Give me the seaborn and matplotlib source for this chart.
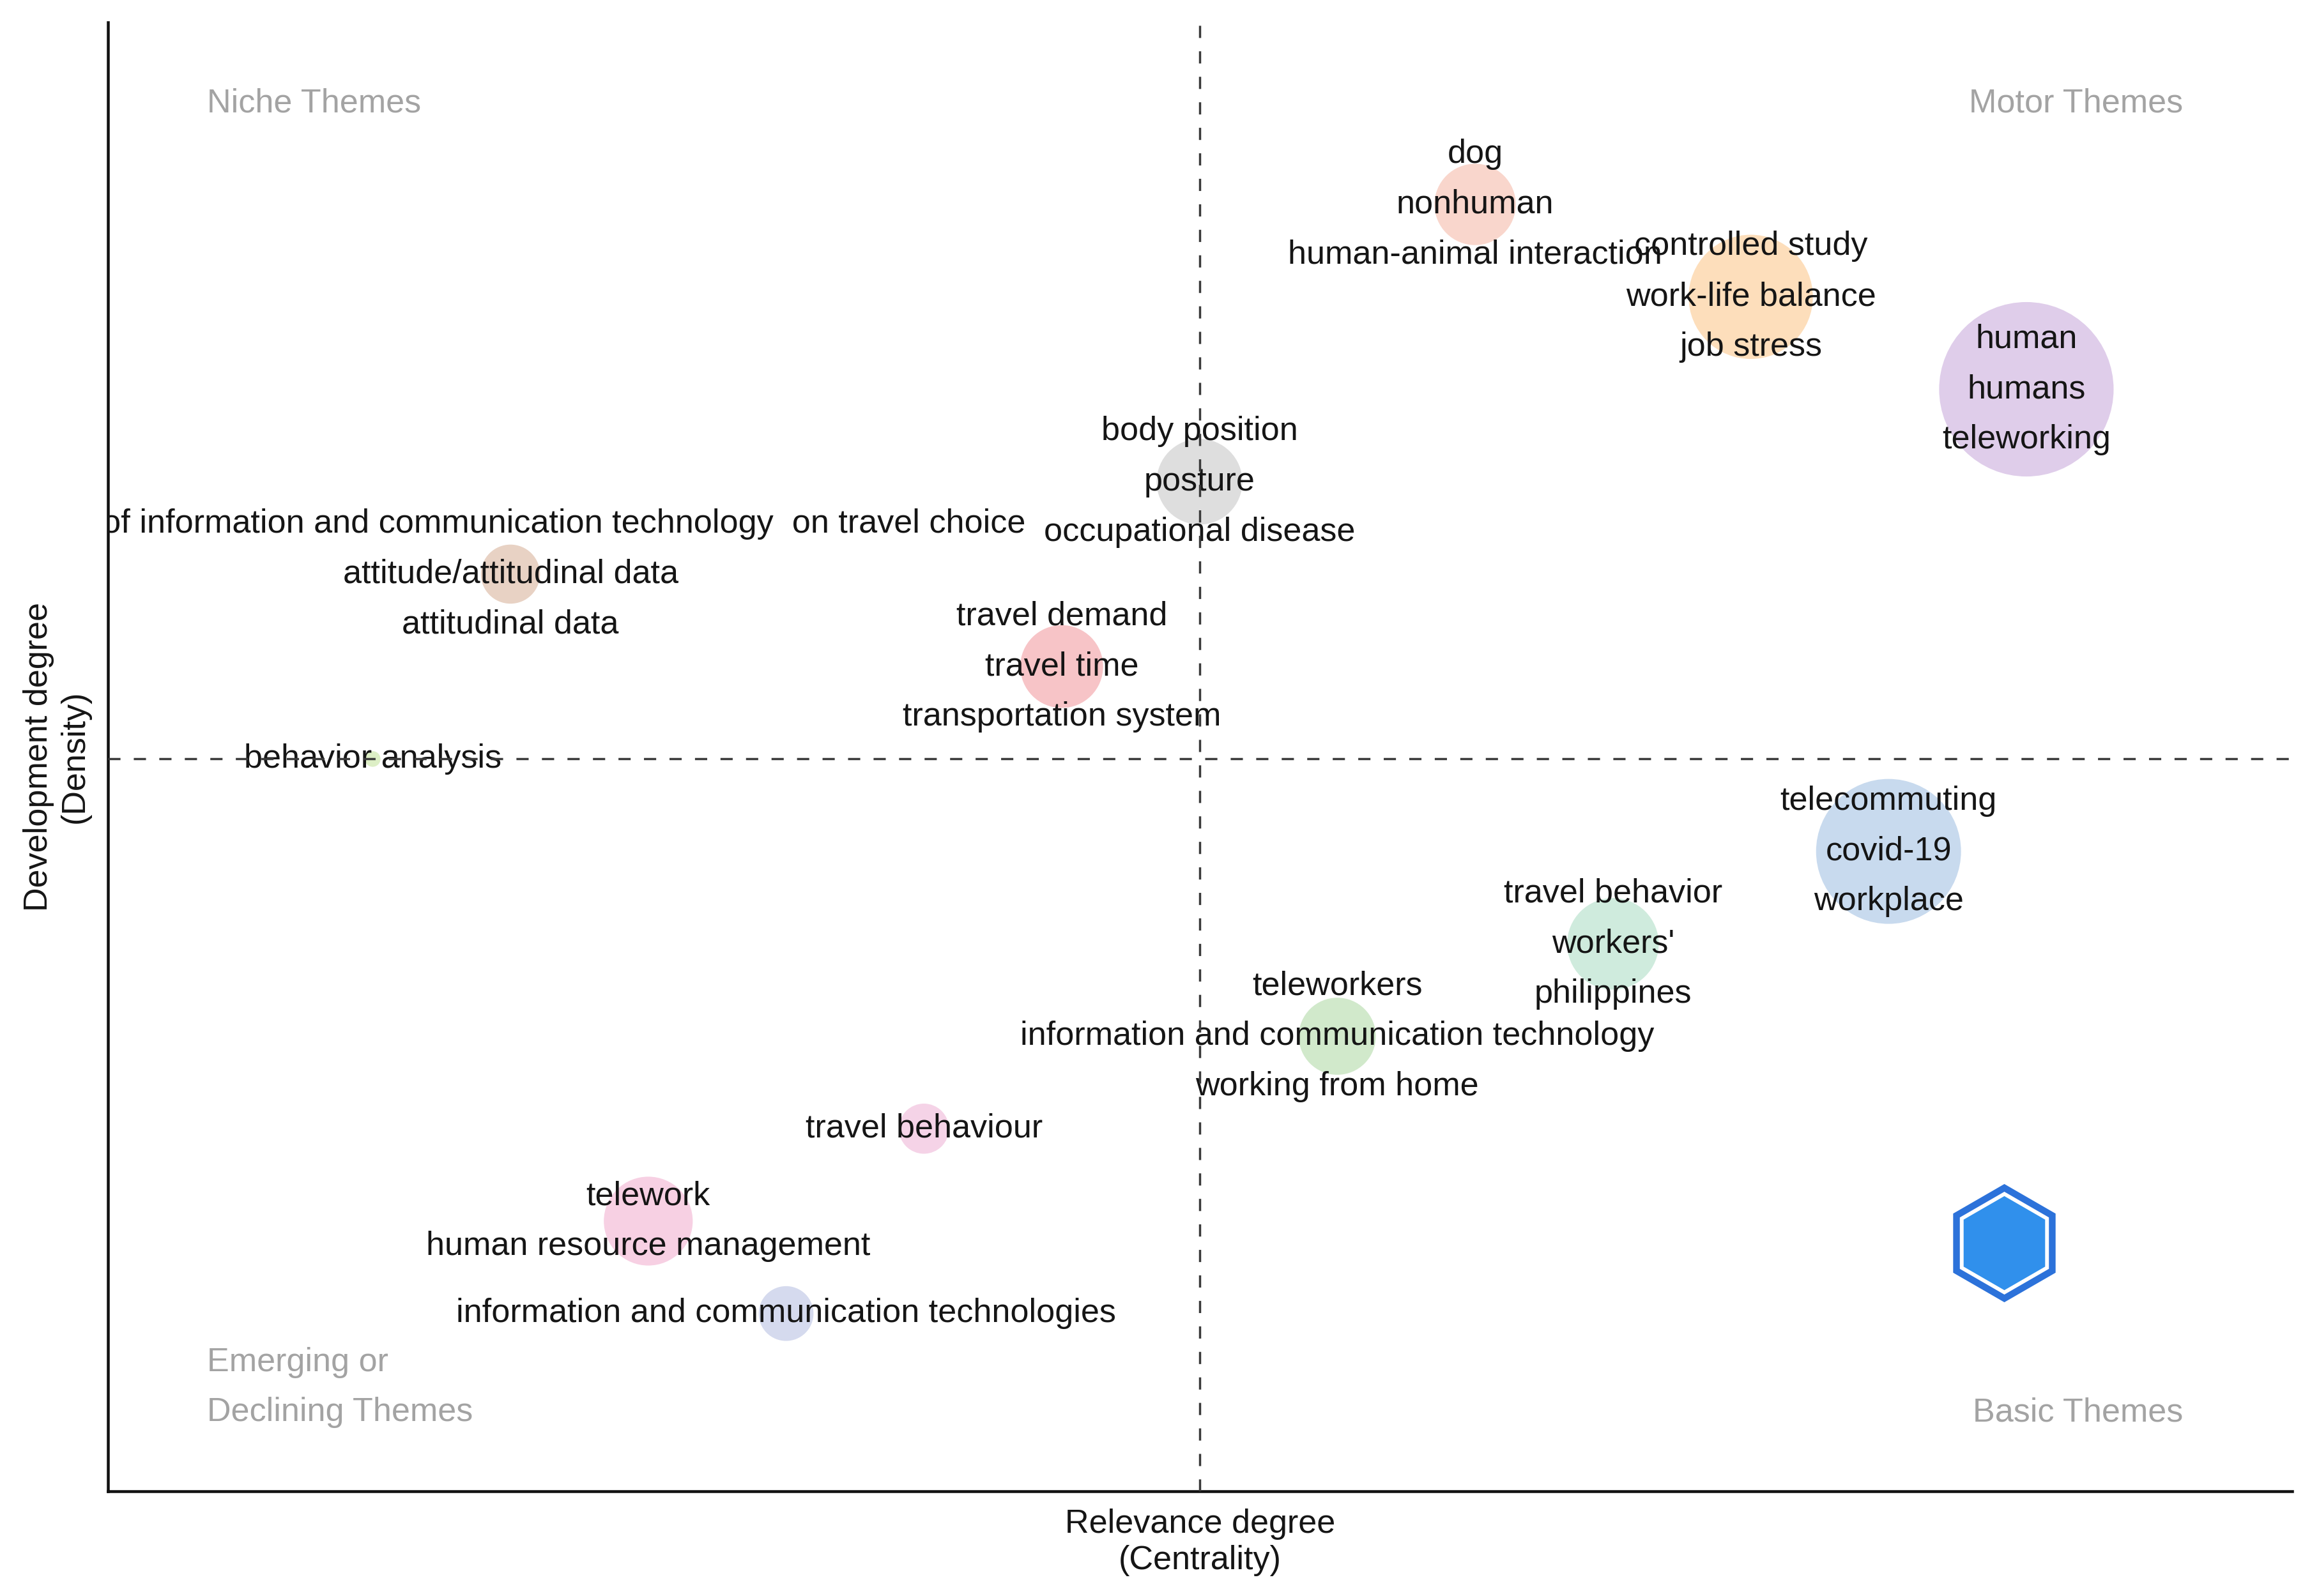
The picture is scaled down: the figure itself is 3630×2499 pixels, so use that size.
import matplotlib
matplotlib.use("Agg")
import matplotlib.pyplot as plt
import seaborn as sns
import numpy as np
import pandas as pd

# thematic map: centrality / density ranks of each keyword cluster
clusters = ["dog", "controlled study", "human", "body position", "impact of ict",
            "travel demand", "behavior analysis", "telecommuting", "travel behavior",
            "teleworkers", "travel behaviour", "telework", "ict"]
centrality = [9, 11, 13, 7, 2, 6, 1, 12, 10, 8, 5, 3, 4]
density = [13, 12, 11, 10, 9, 8, 7, 6, 5, 4, 3, 2, 1]
frequency = [108, 252, 497, 120, 57, 112, 4, 343, 137, 97, 41, 129, 49]
cluster_words = [
    ["dog", "nonhuman", "human-animal interaction"],
    ["controlled study", "work-life balance", "job stress"],
    ["human", "humans", "teleworking"],
    ["body position", "posture", "occupational disease"],
    ["impact of information and communication technology  on travel choice",
     "attitude/attitudinal data", "attitudinal data"],
    ["travel demand", "travel time", "transportation system"],
    ["behavior analysis"],
    ["telecommuting", "covid-19", "workplace"],
    ["travel behavior", "workers'", "philippines"],
    ["teleworkers", "information and communication technology", "working from home"],
    ["travel behaviour"],
    ["telework", "human resource management"],
    ["information and communication technologies"],
]
colors = ["#F9D6CC", "#FDDEBB", "#DFCDEA", "#DEDEDE", "#E8D2C4", "#F7C4C7", "#DDEFC6",
          "#C8DAEE", "#CFEBDD", "#D1E9CB", "#F5D3E7", "#F7D0E3", "#D5DAEE"]

df = pd.DataFrame({"cluster": clusters, "centrality": centrality,
                   "density": density, "freq": frequency})

sns.set_theme(style="white")
plt.rcParams["font.family"] = ["Liberation Sans", "DejaVu Sans"]

fig = plt.figure(figsize=(14.52, 9.996), dpi=250)
ax = fig.add_axes([0.0466, 0.0658, 0.9419, 0.9202])

sizes = df["freq"].to_numpy() * 12.45
sns.scatterplot(data=df, x="centrality", y="density", hue="cluster", palette=colors,
                s=sizes, linewidth=0, legend=False, ax=ax, zorder=2)

ax.set_xlim(-0.92, 14.93)
ax.set_ylim(-0.92, 14.97)

fs = 15
# cluster labels stacked on each bubble
step = 22.7
for cx, cy, words in zip(centrality, density, cluster_words):
    n = len(words)
    for i, w in enumerate(words):
        off = ((n - 1) / 2 - i) * step
        ax.annotate(w, (cx, cy), xytext=(0, off), textcoords="offset points",
                    ha="center", va="center", fontsize=fs, color="#151515",
                    clip_on=True, zorder=3)

# quadrant separators at the medians
ax.axvline(np.median(centrality), color="#3a3a3a", linestyle=(0, (5.5, 6)), linewidth=1.0, zorder=4)
ax.axhline(np.median(density), color="#3a3a3a", linestyle=(0, (5.5, 6)), linewidth=1.0, zorder=4)

qc = "#A3A3A3"
ax.text(0.0454, 0.9446, "Niche Themes", transform=ax.transAxes, ha="left", va="center", fontsize=fs, color=qc)
ax.text(0.950, 0.9446, "Motor Themes", transform=ax.transAxes, ha="right", va="center", fontsize=fs, color=qc)
ax.text(0.0454, 0.0876, "Emerging or", transform=ax.transAxes, ha="left", va="center", fontsize=fs, color=qc)
ax.text(0.0454, 0.0534, "Declining Themes", transform=ax.transAxes, ha="left", va="center", fontsize=fs, color=qc)
ax.text(0.950, 0.0534, "Basic Themes", transform=ax.transAxes, ha="right", va="center", fontsize=fs, color=qc)

# bibliometrix-style logo
for s, c in [(2844, "#2C72DA"), (2150, "white"), (1800, "#3090EC")]:
    ax.scatter([0.868], [0.169], s=s, marker="h", color=c, linewidth=0,
               transform=ax.transAxes, clip_on=False, zorder=5)

ax.set_xticks([])
ax.set_yticks([])
sns.despine(ax=ax)
for sp in ["left", "bottom"]:
    ax.spines[sp].set_color("#111111")
    ax.spines[sp].set_linewidth(1.3)

ax.set_xlabel("Relevance degree\n(Centrality)", fontsize=fs, color="#151515", labelpad=8)
ax.set_ylabel("Development degree\n(Density)", fontsize=fs, color="#151515", labelpad=8)

fig.savefig("out.png", dpi=250)
